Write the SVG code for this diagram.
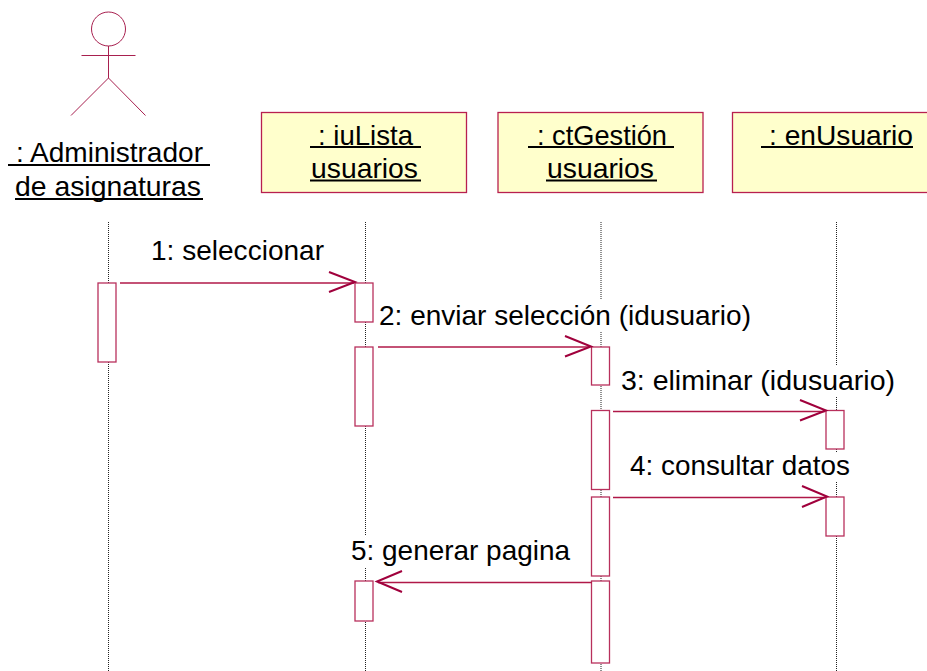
<svg xmlns="http://www.w3.org/2000/svg" width="927" height="671" viewBox="0 0 927 671">
<style>
text{font-family:"Liberation Sans",Arial,sans-serif;font-size:28.500px;fill:#000}
.o{fill:none;stroke:#a8204f;stroke-width:1}
.box{fill:#ffffcc;stroke:#b8204f;stroke-width:1.300}
.act{fill:#fff;stroke:#b8305c;stroke-width:1.300}
.u{stroke:#000;stroke-width:2}
.life{fill:none;stroke:#222;stroke-width:1;stroke-dasharray:1 1}
.msg{fill:none;stroke:#b01848;stroke-width:1.300}
.head{fill:none;stroke:#a0003c;stroke-width:2}
</style>
<rect width="927" height="671" fill="#fff"/>
<g id="lifelines">
<path class="life" d="M108.500 222V671"/>
<path class="life" d="M365.500 222V535M365.500 568V671"/>
<path class="life" d="M601 222V299M601 332V671"/>
<path class="life" d="M836.500 222V365M836.500 397V452M836.500 482V671"/>
</g>
<g id="actor-administrador">
<circle class="o" cx="108.500" cy="29" r="17"/>
<path class="o" d="M81.500 55.500H135.500M108.500 46V78M71 115.500L108.500 78L145.500 115.500"/>
<text x="16" y="162" textLength="187" lengthAdjust="spacingAndGlyphs">: Administrador</text>
<line class="u" x1="8" y1="165" x2="210" y2="165"/>
<text x="15" y="196" textLength="186" lengthAdjust="spacingAndGlyphs">de asignaturas</text>
<line class="u" x1="15" y1="199" x2="203" y2="199"/>
</g>
<g id="obj-iulista">
<rect class="box" x="261.500" y="112.500" width="205" height="80"/>
<text x="318" y="145" textLength="95" lengthAdjust="spacingAndGlyphs">: iuLista</text>
<line class="u" x1="310" y1="147" x2="421" y2="147"/>
<text x="311" y="178" textLength="107" lengthAdjust="spacingAndGlyphs">usuarios</text>
<line class="u" x1="310" y1="180.500" x2="421" y2="180.500"/>
</g>
<g id="obj-ctgestion">
<rect class="box" x="498" y="112.500" width="205" height="80"/>
<text x="537" y="145" textLength="130" lengthAdjust="spacingAndGlyphs">: ctGestión</text>
<line class="u" x1="528" y1="147" x2="674" y2="147"/>
<text x="547" y="178" textLength="107" lengthAdjust="spacingAndGlyphs">usuarios</text>
<line class="u" x1="546" y1="180.500" x2="657" y2="180.500"/>
</g>
<g id="obj-enusuario">
<rect class="box" x="732.500" y="112.500" width="205" height="80"/>
<text x="769" y="145" textLength="144" lengthAdjust="spacingAndGlyphs">: enUsuario</text>
<line class="u" x1="761" y1="147" x2="913" y2="147"/>
</g>
<g id="activations">
<rect class="act" x="98" y="283" width="18" height="79"/>
<rect class="act" x="355" y="283" width="18" height="39"/>
<rect class="act" x="355" y="347" width="18" height="79"/>
<rect class="act" x="355" y="581" width="18" height="40"/>
<rect class="act" x="591.500" y="347" width="18" height="38"/>
<rect class="act" x="591.500" y="410.500" width="18" height="79"/>
<rect class="act" x="591.500" y="497" width="18" height="79"/>
<rect class="act" x="591.500" y="581" width="18" height="82"/>
<rect class="act" x="826" y="410.500" width="18" height="38.500"/>
<rect class="act" x="826" y="497" width="18" height="39"/>
</g>
<g id="connectors">
<path class="msg" d="M120 283H354"/>
<path class="head" d="M329 272L355 282L329 292"/>
<path class="msg" d="M378 347H590"/>
<path class="head" d="M565 336L591 346.500L565 356.500"/>
<path class="msg" d="M613 411.500H825"/>
<path class="head" d="M800 400L826 410.500L800 420.500"/>
<path class="msg" d="M613 497.500H825"/>
<path class="head" d="M802 486L827 496.500L802 507"/>
<path class="msg" d="M592 582.500H378"/>
<path class="head" d="M402 571L377 581.500L402 592"/>
</g>
<g id="labels">
<text x="151" y="260" textLength="173" lengthAdjust="spacingAndGlyphs">1: seleccionar</text>
<text x="379" y="325" textLength="372" lengthAdjust="spacingAndGlyphs">2: enviar selección (idusuario)</text>
<text x="621" y="390" textLength="274" lengthAdjust="spacingAndGlyphs">3: eliminar (idusuario)</text>
<text x="630" y="475" textLength="220" lengthAdjust="spacingAndGlyphs">4: consultar datos</text>
<text x="351" y="560" textLength="219" lengthAdjust="spacingAndGlyphs">5: generar pagina</text>
</g>
</svg>
